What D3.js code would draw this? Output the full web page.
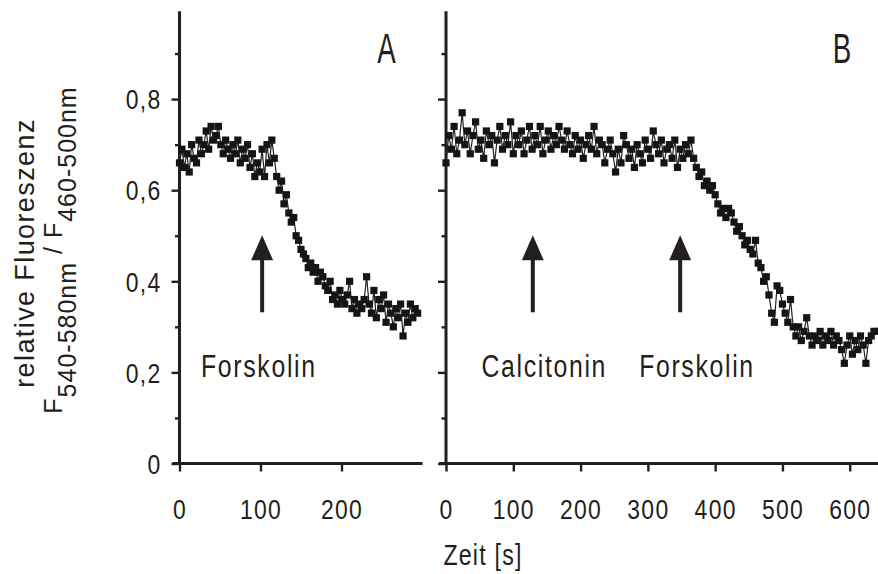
<!DOCTYPE html>
<html>
<head>
<meta charset="utf-8">
<script src="https://cdn.jsdelivr.net/npm/d3@7"></script>
<style>
  html, body { margin: 0; padding: 0; background: #fff; }
  text { font-family: "Liberation Sans", Arial, sans-serif; fill: #231f20; }
</style>
</head>
<body>
<svg id="chart" width="878" height="574"></svg>
<script>
// sampling interval (s) of the two recordings
var stepA = 3;
var stepB = 4;

// panel A: ratio values, one every stepA seconds
var valuesA = [0.66, 0.69, 0.65, 0.68, 0.64, 0.70, 0.67, 0.66, 0.71, 0.68,
  0.70, 0.73, 0.69, 0.74, 0.71, 0.72, 0.74, 0.70, 0.68, 0.71,
  0.69, 0.67, 0.70, 0.68, 0.71, 0.66, 0.69, 0.67, 0.70, 0.65,
  0.68, 0.63, 0.66, 0.64, 0.69, 0.63, 0.70, 0.66, 0.71, 0.67,
  0.63, 0.60, 0.62, 0.57, 0.59, 0.55, 0.53, 0.54, 0.50, 0.49,
  0.47, 0.46, 0.45, 0.43, 0.44, 0.42, 0.43, 0.40, 0.42, 0.41,
  0.39, 0.38, 0.40, 0.36, 0.37, 0.35, 0.38, 0.36, 0.35, 0.37,
  0.40, 0.34, 0.36, 0.33, 0.35, 0.34, 0.36, 0.41, 0.35, 0.33,
  0.38, 0.32, 0.36, 0.34, 0.37, 0.31, 0.35, 0.33, 0.30, 0.34,
  0.32, 0.35, 0.28, 0.33, 0.31, 0.35, 0.32, 0.34, 0.33];

// panel B: ratio values, one every stepB seconds
var valuesB = [0.66, 0.72, 0.69, 0.74, 0.68, 0.71, 0.77, 0.70, 0.73, 0.68,
  0.72, 0.75, 0.69, 0.71, 0.67, 0.73, 0.70, 0.72, 0.66, 0.71,
  0.74, 0.69, 0.72, 0.70, 0.75, 0.68, 0.72, 0.70, 0.73, 0.68,
  0.71, 0.74, 0.69, 0.72, 0.70, 0.74, 0.68, 0.71, 0.73, 0.69,
  0.72, 0.70, 0.74, 0.71, 0.69, 0.73, 0.70, 0.68, 0.72, 0.69,
  0.71, 0.67, 0.70, 0.72, 0.69, 0.74, 0.68, 0.71, 0.70, 0.66,
  0.69, 0.71, 0.68, 0.64, 0.69, 0.66, 0.72, 0.70, 0.67, 0.69,
  0.65, 0.70, 0.68, 0.66, 0.71, 0.69, 0.67, 0.73, 0.70, 0.68,
  0.71, 0.66, 0.69, 0.70, 0.67, 0.71, 0.65, 0.69, 0.67, 0.70,
  0.68, 0.71, 0.67, 0.65, 0.63, 0.64, 0.61, 0.62, 0.60, 0.61,
  0.59, 0.57, 0.55, 0.56, 0.54, 0.56, 0.55, 0.53, 0.51, 0.52,
  0.50, 0.48, 0.49, 0.47, 0.46, 0.49, 0.44, 0.43, 0.40, 0.41,
  0.37, 0.33, 0.31, 0.39, 0.38, 0.35, 0.33, 0.31, 0.36, 0.30,
  0.28, 0.30, 0.27, 0.29, 0.32, 0.28, 0.26, 0.28, 0.27, 0.29,
  0.26, 0.28, 0.27, 0.29, 0.26, 0.28, 0.27, 0.25, 0.22, 0.26,
  0.28, 0.24, 0.27, 0.25, 0.28, 0.26, 0.22, 0.27, 0.28, 0.29,
  0.29];

var yTicks = [0, 0.2, 0.4, 0.6, 0.8];
var yMinorTicks = [0.1, 0.3, 0.5, 0.7, 0.9];
var xTicksA = [0, 100, 200];
var xTicksB = [0, 100, 200, 300, 400, 500, 600];

// arrows (time of addition) and their captions
var arrowsA = [102];
var arrowsB = [129, 348];
var captionsA = [{ t: 98, text: "Forskolin" }];
var captionsB = [{ t: 146, text: "Calcitonin" }, { t: 373, text: "Forskolin" }];

var ink = "#231f20";
var svg = d3.select("#chart");

var y = d3.scaleLinear().domain([0, 1]).range([463.5, 8]);
var xA = d3.scaleLinear().domain([0, 300]).range([179.5, 422.5]);
var xB = d3.scaleLinear().domain([0, 642]).range([446, 878]);

var fmt = function(d) { return d === 0 ? "0" : d3.format(".1f")(d).replace(".", ","); };

// slightly squeezed text, like the narrow face of the original
var label = function(g, x, yy, txt, size, sx, ls, anchor) {
  return g.append("text")
    .attr("transform", "translate(" + x + "," + yy + ") scale(" + sx + ",1)")
    .attr("text-anchor", anchor || "middle")
    .style("font-size", size + "px")
    .style("letter-spacing", ls + "px")
    .text(txt);
};

var tickSx = 0.85;

var drawPanel = function(x, values, step, xTicks, arrows, captions, showYLabels, letter) {
  var g = svg.append("g");
  var xEnd = x.range()[1];

  // y axis, major ticks
  var yAxis = d3.axisLeft(y).tickValues(yTicks).tickSize(8).tickSizeOuter(0)
    .tickFormat(showYLabels ? fmt : "");
  var ya = g.append("g").attr("transform", "translate(" + x(0) + ",0)").call(yAxis);
  ya.select(".domain").remove();
  ya.selectAll(".tick line").attr("stroke", ink).attr("stroke-width", 2.4);
  ya.selectAll(".tick text")
    .attr("transform", "scale(" + tickSx + ",1)")
    .attr("x", -18 / tickSx)
    .attr("dy", "0.36em")
    .style("font-size", "27px")
    .style("letter-spacing", "1.5px")
    .style("font-family", "Liberation Sans, Arial, sans-serif")
    .attr("fill", ink);

  // y axis, minor ticks
  var ym = g.append("g").attr("transform", "translate(" + x(0) + ",0)")
    .call(d3.axisLeft(y).tickValues(yMinorTicks).tickSize(4.5).tickFormat(""));
  ym.select(".domain").remove();
  ym.selectAll(".tick line").attr("stroke", ink).attr("stroke-width", 2.4);

  g.append("line")
    .attr("x1", x(0)).attr("x2", x(0))
    .attr("y1", y(0)).attr("y2", y(0.993))
    .attr("stroke", ink).attr("stroke-width", 3);

  // x axis
  var xAxis = d3.axisBottom(x).tickValues(xTicks).tickSize(8).tickSizeOuter(0).tickFormat(d3.format("d"));
  var xa = g.append("g").attr("transform", "translate(0," + y(0) + ")").call(xAxis);
  xa.select(".domain").remove();
  xa.selectAll(".tick line").attr("stroke", ink).attr("stroke-width", 2.4);
  xa.selectAll(".tick text")
    .attr("transform", "scale(" + tickSx + ",1)")
    .attr("y", 56)
    .attr("dy", 0)
    .style("font-size", "27px")
    .style("letter-spacing", "1.5px")
    .style("font-family", "Liberation Sans, Arial, sans-serif")
    .attr("fill", ink);

  g.append("line")
    .attr("x1", x(0) - 7).attr("x2", xEnd)
    .attr("y1", y(0)).attr("y2", y(0))
    .attr("stroke", ink).attr("stroke-width", 3);

  // trace
  var line = d3.line()
    .x(function(d, i) { return x(i * step); })
    .y(function(d) { return y(d); });

  g.append("path")
    .datum(values)
    .attr("d", line)
    .attr("fill", "none")
    .attr("stroke", "#222")
    .attr("stroke-width", 1.2);

  var s = 7.2;
  g.append("g").selectAll("rect")
    .data(values)
    .enter()
    .append("rect")
    .attr("x", function(d, i) { return x(i * step) - s / 2; })
    .attr("y", function(d) { return y(d) - s / 2; })
    .attr("width", s)
    .attr("height", s)
    .attr("fill", "#151515");

  // arrows
  arrows.forEach(function(t) {
    var ax = x(t);
    g.append("line")
      .attr("x1", ax).attr("x2", ax)
      .attr("y1", y(0.332)).attr("y2", y(0.46))
      .attr("stroke", ink).attr("stroke-width", 4);
    g.append("path")
      .attr("d", "M" + ax + "," + y(0.501) + "L" + (ax - 11) + "," + y(0.446) +
                 "L" + (ax + 11) + "," + y(0.446) + "Z")
      .attr("fill", ink);
  });

  captions.forEach(function(c) {
    label(g, x(c.t), 377, c.text, 31, 0.8, 2.1, "middle");
  });

  label(g, xEnd - 36, 63, letter, 42, 0.66, 0, "middle");
};

drawPanel(xA, valuesA, stepA, xTicksA, arrowsA, captionsA, true, "A");
drawPanel(xB, valuesB, stepB, xTicksB, arrowsB, captionsB, false, "B");

// bottom axis title
label(svg, 483, 565, "Zeit [s]", 29, 0.8, 1.5, "middle");

// y axis title, two lines, rotated
svg.append("text")
  .attr("transform", "translate(34,253) rotate(-90)")
  .attr("text-anchor", "middle")
  .style("font-size", "27px")
  .style("letter-spacing", "1.4px")
  .text("relative Fluoreszenz");

var yt2 = svg.append("text")
  .attr("transform", "translate(62,250) rotate(-90)")
  .attr("text-anchor", "middle")
  .style("font-size", "25px")
  .style("letter-spacing", "1px");
yt2.append("tspan").text("F");
yt2.append("tspan").attr("dy", 14).text("540-580nm");
yt2.append("tspan").attr("dy", -14).text(" / F");
yt2.append("tspan").attr("dy", 14).text("460-500nm");
</script>
</body>
</html>
